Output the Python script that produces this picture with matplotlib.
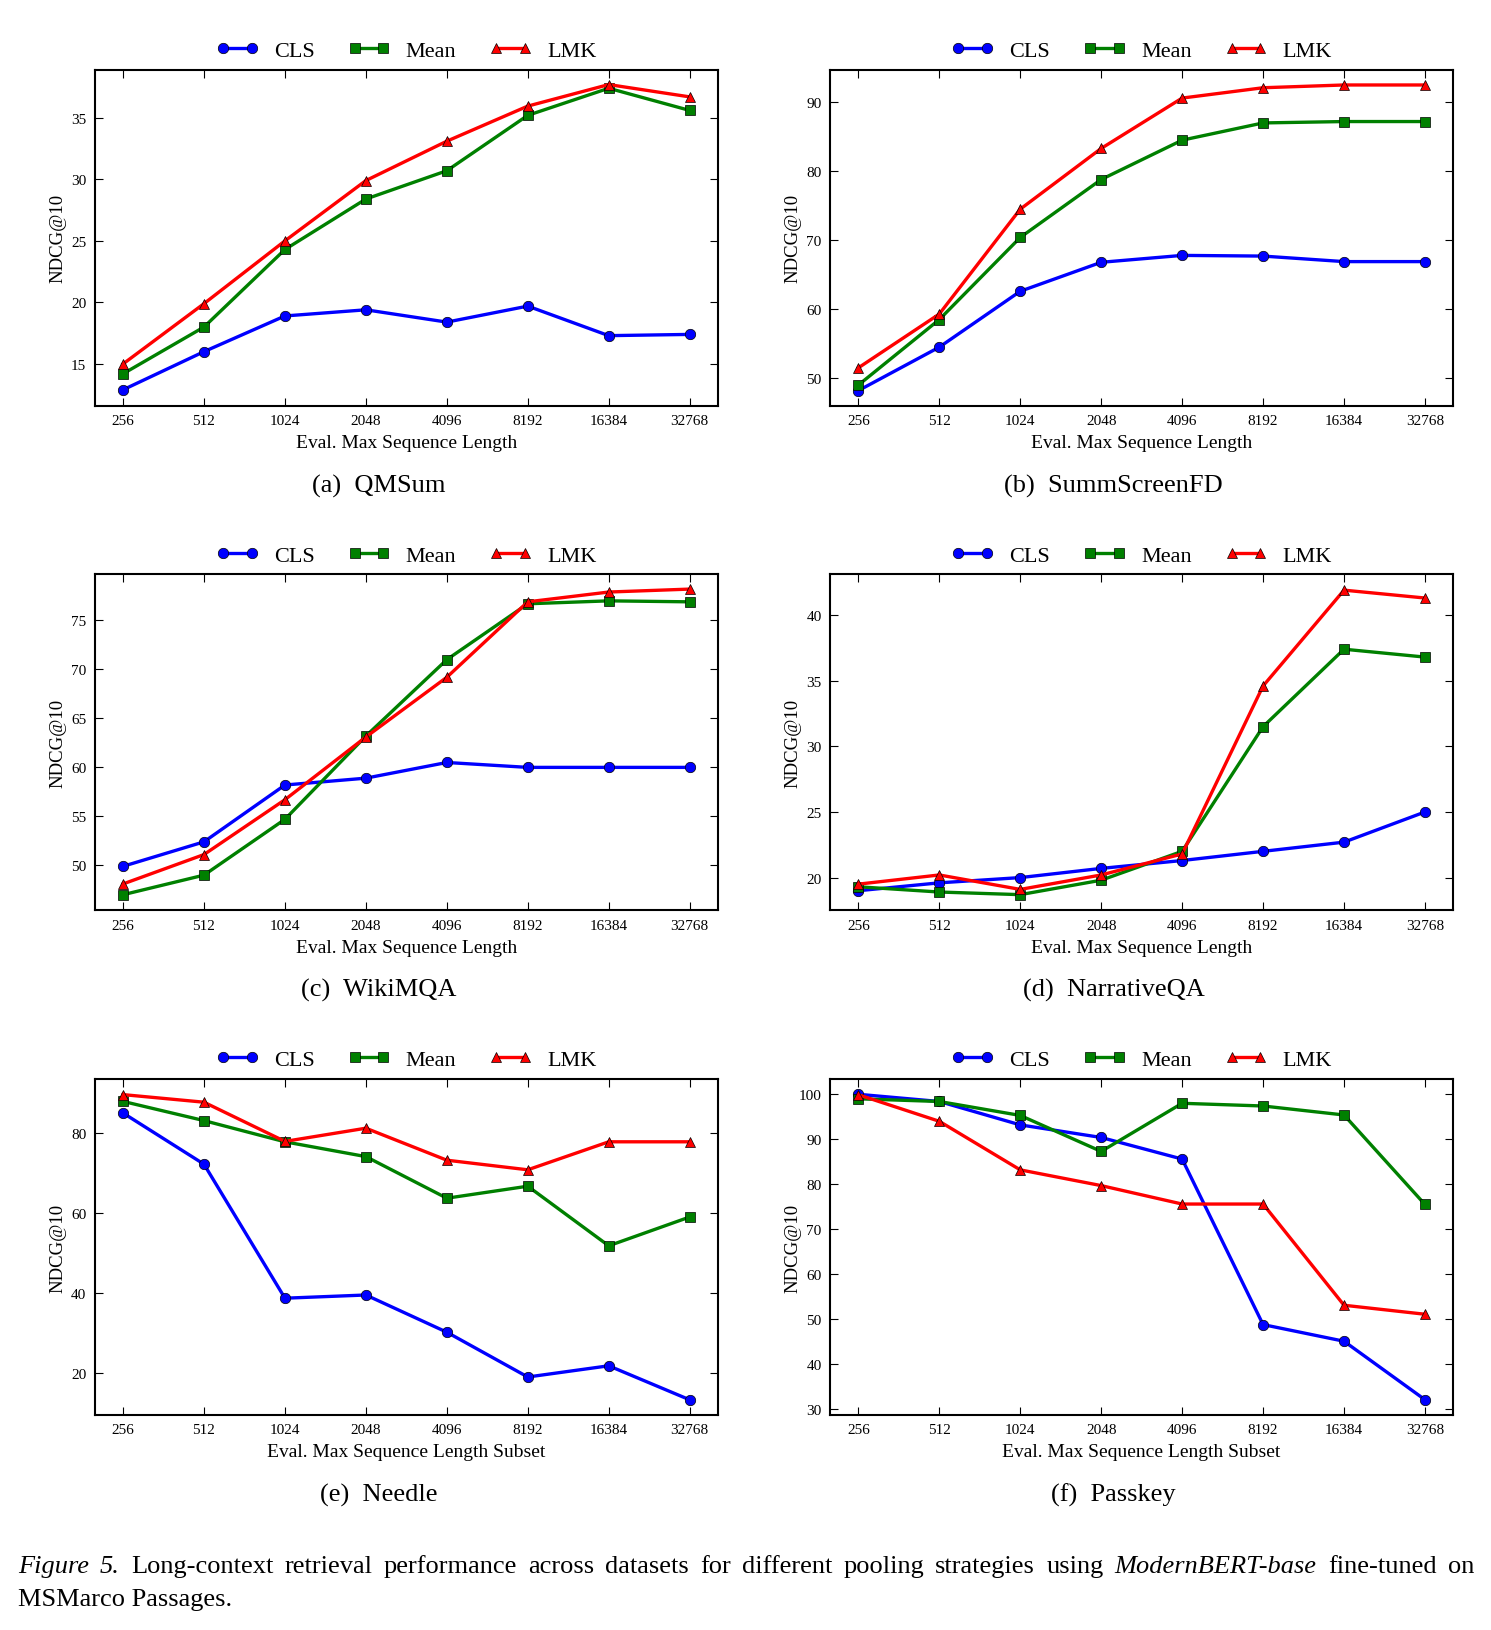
import matplotlib
matplotlib.use("Agg")
import matplotlib.pyplot as plt
import numpy as np

plt.rcParams['font.family'] = ['Liberation Serif', 'DejaVu Serif']
plt.rcParams['mathtext.fontset'] = 'stix'

x_labels = ["256", "512", "1024", "2048", "4096", "8192", "16384", "32768"]
series_names = ["CLS", "Mean", "LMK"]

qmsum_cls = [12.9, 16.0, 18.9, 19.4, 18.4, 19.7, 17.3, 17.4]
qmsum_mean = [14.2, 18.0, 24.3, 28.4, 30.7, 35.2, 37.4, 35.6]
qmsum_lmk = [15.0, 19.9, 25.0, 29.9, 33.1, 35.95, 37.7, 36.7]

summ_cls = [48.1, 54.4, 62.5, 66.7, 67.7, 67.6, 66.8, 66.8]
summ_mean = [48.9, 58.4, 70.3, 78.7, 84.4, 86.9, 87.1, 87.1]
summ_lmk = [51.4, 59.2, 74.4, 83.2, 90.5, 92.0, 92.4, 92.4]

wiki_cls = [49.9, 52.4, 58.2, 58.9, 60.5, 60.0, 60.0, 60.0]
wiki_mean = [47.0, 49.0, 54.7, 63.2, 71.0, 76.7, 77.0, 76.9]
wiki_lmk = [48.1, 51.1, 56.7, 63.1, 69.2, 76.9, 77.9, 78.2]

narr_cls = [19.0, 19.6, 20.0, 20.7, 21.3, 22.0, 22.7, 25.0]
narr_mean = [19.3, 18.9, 18.7, 19.8, 22.0, 31.5, 37.4, 36.8]
narr_lmk = [19.5, 20.2, 19.1, 20.2, 21.8, 34.6, 41.9, 41.3]

needle_cls = [85.1, 72.3, 38.8, 39.6, 30.3, 19.1, 21.9, 13.4]
needle_mean = [88.0, 83.2, 77.9, 74.2, 63.8, 66.8, 51.9, 59.1]
needle_lmk = [89.7, 87.8, 78.0, 81.3, 73.3, 70.9, 77.9, 77.9]

pass_cls = [100.0, 98.4, 93.2, 90.4, 85.6, 48.8, 45.1, 32.1]
pass_mean = [99.0, 98.4, 95.3, 87.3, 98.0, 97.4, 95.4, 75.5]
pass_lmk = [99.9, 94.0, 83.2, 79.7, 75.6, 75.6, 53.1, 51.1]

panels = [
    ("(a)  QMSum", "Eval. Max Sequence Length", [qmsum_cls, qmsum_mean, qmsum_lmk], (11.6, 38.9), [15, 20, 25, 30, 35]),
    ("(b)  SummScreenFD", "Eval. Max Sequence Length", [summ_cls, summ_mean, summ_lmk], (45.9, 94.6), [50, 60, 70, 80, 90]),
    ("(c)  WikiMQA", "Eval. Max Sequence Length", [wiki_cls, wiki_mean, wiki_lmk], (45.4, 79.7), [50, 55, 60, 65, 70, 75]),
    ("(d)  NarrativeQA", "Eval. Max Sequence Length", [narr_cls, narr_mean, narr_lmk], (17.5, 43.1), [20, 25, 30, 35, 40]),
    ("(e)  Needle", "Eval. Max Sequence Length Subset", [needle_cls, needle_mean, needle_lmk], (9.6, 93.6), [20, 40, 60, 80]),
    ("(f)  Passkey", "Eval. Max Sequence Length Subset", [pass_cls, pass_mean, pass_lmk], (28.7, 103.4), [30, 40, 50, 60, 70, 80, 90, 100]),
]

colors = ["#0000ff", "#008000", "#ff0000"]
markers = ["o", "s", "^"]

W, H = 1491, 1631
fig = plt.figure(figsize=(W / 100, H / 100), dpi=100)

lefts = [94.7, 830.0]
width = 623.3
tops = [70.8, 575.4, 1080.0]
height = 336.0

for i, (cap, xlab, data, ylim, yticks) in enumerate(panels):
    r, c = divmod(i, 2)
    l = lefts[c]
    t = tops[r]
    ax = fig.add_axes([l / W, 1 - (t + height) / H, width / W, height / H])
    xs = np.arange(len(x_labels))
    for name, vals, col, mk in zip(series_names, data, colors, markers):
        ax.plot(xs, vals, color=col, lw=2.4, marker=mk, ms=7.5,
                markerfacecolor=col, markeredgecolor='black', markeredgewidth=0.5,
                label=name)
    ax.set_xlim(-0.35, 7.35)
    ax.set_ylim(*ylim)
    ax.set_xticks(xs)
    ax.set_xticklabels(x_labels)
    ax.set_yticks(yticks)
    ax.tick_params(direction='in', top=True, right=True, length=6, width=0.8,
                   labelsize=11, pad=6)
    for s in ax.spines.values():
        s.set_linewidth(1.5)
    ax.set_xlabel(xlab, fontsize=14, labelpad=5)
    ax.set_ylabel("NDCG@10", fontsize=13.5)
    ax.yaxis.set_label_coords(-0.045, 0.5)
    ax.legend(loc='lower center', bbox_to_anchor=(0.5, 1.0), ncol=3,
              frameon=False, fontsize=16, numpoints=2, handlelength=1.9,
              handletextpad=0.7, columnspacing=1.5, borderaxespad=0.0)
    cx = (l + width / 2 - 28) / W
    fig.text(cx, 1 - (t + 415.5) / H, cap, ha='center', va='center', fontsize=19)

# Figure caption, justified first line
fig.canvas.draw()
renderer = fig.canvas.get_renderer()
line1 = [("Figure", 'italic'), ("5.", 'italic'), ("Long-context", 'normal'), ("retrieval", 'normal'),
         ("performance", 'normal'), ("across", 'normal'), ("datasets", 'normal'), ("for", 'normal'),
         ("different", 'normal'), ("pooling", 'normal'), ("strategies", 'normal'), ("using", 'normal'),
         ("ModernBERT-base", 'italic'), ("fine-tuned", 'normal'), ("on", 'normal')]
x0, x1 = 17.7, 1474.0
y1 = 1 - 1567 / H
texts = []
total = 0.0
for w, st in line1:
    t = fig.text(0, y1, w, fontsize=19, style=st, ha='left', va='center')
    bb = t.get_window_extent(renderer)
    texts.append((t, bb.width))
    total += bb.width
gap = (x1 - x0 - total) / (len(line1) - 1)
xp = x0
for t, wdt in texts:
    t.set_x(xp / W)
    xp += wdt + gap
fig.text(x0 / W, 1 - 1600 / H, "MSMarco Passages.", fontsize=19, ha='left', va='center')

fig.savefig("out.png", dpi=100)
